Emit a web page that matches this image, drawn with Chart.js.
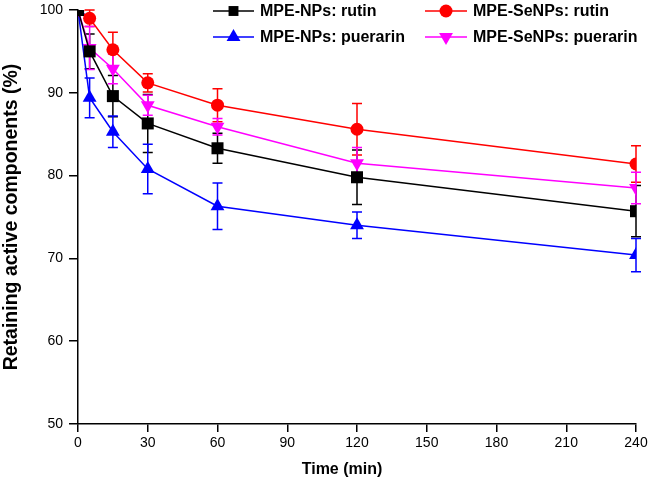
<!DOCTYPE html>
<html><head><meta charset="utf-8">
<script src="https://cdn.jsdelivr.net/npm/chart.js@4"></script>
<style>html,body{margin:0;padding:0;background:#fff}#wrap{width:650px;height:493px;position:relative}</style>
</head><body><div id="wrap"><canvas id="c"></canvas></div>
<script>
const times = [0, 5, 15, 30, 60, 120, 240];
const labelsSeries = ['MPE-NPs: rutin', 'MPE-SeNPs: rutin', 'MPE-NPs: puerarin', 'MPE-SeNPs: puerarin'];
const npRutin = [100, 95.0, 89.6, 86.3, 83.3, 79.8, 75.7];
const npRutinErr = [0, 2.1, 2.5, 3.5, 1.8, 3.3, 3.1];
const seRutin = [100, 99.0, 95.2, 91.2, 88.5, 85.6, 81.4];
const seRutinErr = [0, 1.0, 2.1, 1.1, 2.0, 3.1, 2.2];
const npPuer = [100, 89.4, 85.3, 80.8, 76.3, 74.0, 70.4];
const npPuerErr = [0, 2.4, 1.9, 3.0, 2.8, 1.6, 2.0];
const sePuer = [100, 95.4, 92.9, 88.5, 85.9, 81.5, 78.5];
const sePuerErr = [0, 2.6, 1.8, 1.2, 1.0, 1.9, 1.9];
const xTicks = [0, 30, 60, 90, 120, 150, 180, 210, 240];
const yTicks = [50, 60, 70, 80, 90, 100];
const xTitle = 'Time (min)';
const yTitle = 'Retaining active components (%)';
const colors = ['#000000', '#ff0000', '#0000ff', '#ff00ff'];
const pointStyles = ['rect', 'circle', 'triangle', 'triangle'];
const pointRot = [0, 0, 0, 180];
const pointRad = [8.5, 6.5, 8, 8];

const FONT = "Arial, 'Liberation Sans', Helvetica, sans-serif";
const values = [npRutin, seRutin, npPuer, sePuer];
const errs = [npRutinErr, seRutinErr, npPuerErr, sePuerErr];

const datasets = values.map((v, i) => ({
  label: labelsSeries[i],
  data: times.map((t, j) => ({x: t, y: v[j]})),
  errors: errs[i],
  borderColor: colors[i],
  backgroundColor: colors[i],
  borderWidth: 1.5,
  pointStyle: pointStyles[i],
  pointRotation: pointRot[i],
  pointRadius: pointRad[i],
  pointBorderWidth: 0,
  pointBackgroundColor: colors[i],
  tension: 0
}));

const errorBars = {
  id: 'errorBars',
  beforeDatasetsDraw(chart) {
    const ctx = chart.ctx, xs = chart.scales.x, ys = chart.scales.y;
    ctx.save();
    chart.data.datasets.forEach(ds => {
      ctx.strokeStyle = ds.borderColor;
      ctx.lineWidth = 1.5;
      ds.data.forEach((p, j) => {
        const e = ds.errors[j];
        if (!e) return;
        const x = xs.getPixelForValue(p.x);
        const y1 = ys.getPixelForValue(p.y + e);
        const y2 = ys.getPixelForValue(p.y - e);
        const cw = 5;
        ctx.beginPath();
        ctx.moveTo(x, y1); ctx.lineTo(x, y2);
        ctx.moveTo(x - cw, y1); ctx.lineTo(x + cw, y1);
        ctx.moveTo(x - cw, y2); ctx.lineTo(x + cw, y2);
        ctx.stroke();
      });
    });
    ctx.restore();
  }
};

const customLegend = {
  id: 'customLegend',
  afterDraw(chart) {
    const ctx = chart.ctx;
    const pos = [[213, 11], [425, 11], [213, 37], [425, 37]];
    const lineLen = [41, 42, 41, 42];
    ctx.save();
    chart.data.datasets.forEach((ds, i) => {
      const [lx, ly] = pos[i];
      ctx.strokeStyle = ds.borderColor;
      ctx.lineWidth = 1.5;
      ctx.beginPath();
      ctx.moveTo(lx, ly); ctx.lineTo(lx + lineLen[i], ly);
      ctx.stroke();
      ctx.fillStyle = ds.borderColor;
      Chart.helpers.drawPoint(ctx, {pointStyle: ds.pointStyle, rotation: ds.pointRotation, borderWidth: 0, radius: i === 0 ? 7 : ds.pointRadius}, lx + lineLen[i] / 2, ly);
      ctx.fillStyle = '#000';
      ctx.font = 'bold 16px ' + FONT;
      ctx.textBaseline = 'middle';
      ctx.textAlign = 'left';
      ctx.fillText(ds.label, lx + lineLen[i] + 6, ly + 1);
    });
    // axis titles
    ctx.fillStyle = '#000';
    ctx.textAlign = 'center';
    ctx.textBaseline = 'middle';
    ctx.font = 'bold 16px ' + FONT;
    ctx.fillText(xTitle, 342, 470);
    const a = chart.chartArea;
    ctx.translate(12, (a.top + a.bottom) / 2);
    ctx.rotate(-Math.PI / 2);
    ctx.font = 'bold 19.5px ' + FONT;
    ctx.fillText(yTitle, 0, 0);
    ctx.restore();
  }
};

new Chart(document.getElementById('c'), {
  type: 'line',
  data: {datasets},
  plugins: [errorBars, customLegend],
  options: {
    responsive: true,
    maintainAspectRatio: false,
    animation: false,
    layout: {padding: {top: 10, right: 14, left: 0, bottom: 0}},
    plugins: {legend: {display: false}, tooltip: {enabled: false}},
    scales: {
      x: {
        type: 'linear', min: 0, max: 240,
        afterBuildTicks(s) { s.ticks = xTicks.map(v => ({value: v})); },
        afterFit(s) { s.height = 69; s.paddingLeft = 0; s.paddingRight = 0; },
        grid: {drawOnChartArea: false, color: '#000', lineWidth: 1.5, tickLength: 8},
        border: {color: '#000', width: 1.5},
        ticks: {color: '#000', font: {size: 14, family: FONT}, padding: 3, maxRotation: 0}
      },
      y: {
        type: 'linear', min: 50, max: 100,
        afterBuildTicks(s) { s.ticks = yTicks.map(v => ({value: v})); },
        afterFit(s) { s.width = 78; s.paddingTop = 0; s.paddingBottom = 0; },
        grid: {drawOnChartArea: false, color: '#000', lineWidth: 1.5, tickLength: 9},
        border: {color: '#000', width: 1.5},
        ticks: {color: '#000', font: {size: 14, family: FONT}, padding: 6}
      }
    }
  }
});
</script></body></html>
